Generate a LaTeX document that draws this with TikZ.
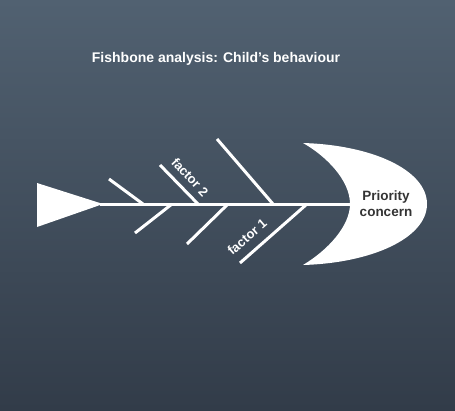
\documentclass[tikz,border=0pt]{standalone}
\usepackage{fontspec}
\setmainfont{Liberation Sans}
\usepackage{tikz}
\usetikzlibrary{positioning}
\definecolor{bgtop}{HTML}{516171}
\definecolor{bgbot}{HTML}{323C49}
\definecolor{headtext}{HTML}{333333}
\tikzset{
  bone/.style={draw=white, line width=3pt},
  fishpart/.style={fill=white, draw=none},
  factorlabel/.style={text=white, font=\bfseries\fontsize{13}{15}\selectfont, inner sep=1pt}
}

\begin{document}
\begin{tikzpicture}[x=1pt, y=-1pt]
    \useasboundingbox (0,0) rectangle (455,410);
    \shade[top color=bgtop, bottom color=bgbot] (0,0) rectangle (455,410);

    \node[text=white, font=\bfseries\fontsize{14}{16}\selectfont] at (216,59) (title) {Fishbone analysis: Child’s behaviour};

    % tail and head
    \fill[fishpart] (37,183) -- (103,204) -- (37,227) -- cycle;
    \fill[fishpart] (303,143) .. controls (372,145) and (427,170) .. (427,204)
        .. controls (427,238) and (372,263) .. (303,265)
        .. controls (328,250) and (350,226) .. (350,204)
        .. controls (350,180) and (326,156) .. (303,143) -- cycle;
    \node[text=headtext, align=center, font=\bfseries\fontsize{13.5}{16}\selectfont] at (386,204) (concern) {Priority\\concern};

    % spine
    \coordinate (tail) at (100,204);
    \coordinate (mouth) at (352,204);
    \draw[bone] (tail) -- (mouth);

    % bones
    \foreach \sx/\ex/\ey [count=\i] in {143/109/179, 198/160/165, 273/217/139}{
      \coordinate (up\i) at (\sx,204);
      \coordinate (upend\i) at (\ex,\ey);
      \draw[bone] (up\i) -- (upend\i);
    }
    \foreach \sx/\ex/\ey [count=\i] in {172/135/233, 228/187/244, 307/240/263}{
      \coordinate (lo\i) at (\sx,204);
      \coordinate (loend\i) at (\ex,\ey);
      \draw[bone] (lo\i) -- (loend\i);
    }

    \node[factorlabel, rotate=-47] at (190,177) (factortwo) {factor 2};
    \node[factorlabel, rotate=41] at (247,237) (factorone) {factor 1};
\end{tikzpicture}
\end{document}
